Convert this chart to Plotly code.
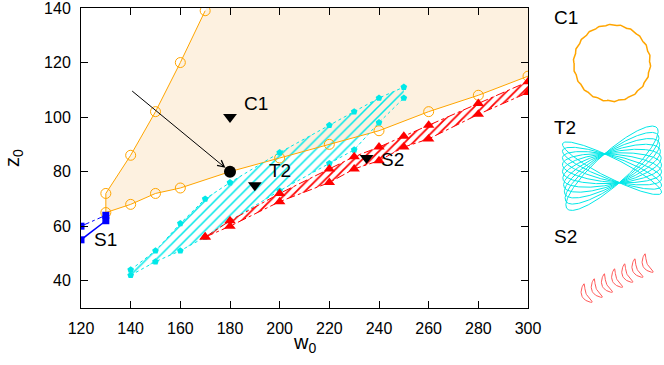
import numpy as np
import plotly.graph_objects as go

# ---------------- data ----------------
X_RANGE = [120, 300]
Y_RANGE = [30, 140]
x_ticks = [120, 140, 160, 180, 200, 220, 240, 260, 280, 300]
y_ticks = [40, 60, 80, 100, 120, 140]

orange_up_w = [130, 140, 150, 160, 170]
orange_up_z = [72, 86, 102, 120, 139]
orange_low_w = [130, 140, 150, 160, 180, 200, 220, 240, 260, 280, 300]
orange_low_z = [65, 68, 72, 74, 80, 85, 90, 95, 102, 108, 115]

cyan_w = [140, 150, 160, 170, 180, 200, 220, 230, 240, 250]
cyan_upper = [44, 51, 61, 70, 76, 87, 97, 102, 107, 111]
cyan_lower = [42, 47, 51, 56, 62, 73, 83, 88, 98, 107]

red_w = [170, 180, 200, 220, 230, 240, 250, 260, 280, 300]
red_upper = [56, 62, 72, 81, 85.5, 89, 93, 97, 105, 113]
red_lower = [56, 60, 69, 76, 81, 84, 89, 92, 101, 109]

s1_w = [120, 130]
s1_solid = [55, 62]
s1_dashdot = [60, 64]

state_names = ["C1", "T2", "S2"]
state_w = [180, 190, 235]
state_z = [100, 75, 85]
label_w = [185, 195, 240]
label_z = [105, 80.5, 84.5]

dot_w, dot_z = 180, 80
arrow_from_w, arrow_from_z = 140, 110

# ---------------- layout geometry (pixels) ----------------
W, H = 664, 365
PL, PR, PT, PB = 81, 528, 8, 308

ORANGE = "#FFA500"
PEACH = "rgb(253,241,224)"
CYAN = "#00E8E8"
RED = "#FF0000"
BLUE = "#0000FF"
FONT = "Liberation Sans, Arial, sans-serif"

fig = go.Figure()

# orange shaded region (extends to top and right of plot)
slope = (orange_up_z[-1] - orange_up_z[-2]) / (orange_up_w[-1] - orange_up_w[-2])
w_top = orange_up_w[-1] + (Y_RANGE[1] - orange_up_z[-1]) / slope
poly_x = orange_up_w + [w_top, X_RANGE[1]] + orange_low_w[::-1]
poly_z = orange_up_z + [Y_RANGE[1], Y_RANGE[1]] + orange_low_z[::-1]
fig.add_trace(go.Scatter(x=poly_x, y=poly_z, fill="toself", fillcolor=PEACH,
                         mode="none", hoverinfo="skip", showlegend=False))

# cyan hatched region
fig.add_trace(go.Scatter(
    x=cyan_w + cyan_w[::-1], y=cyan_upper + cyan_lower[::-1],
    fill="toself", mode="none", fillcolor="rgba(0,0,0,0)",
    fillpattern=dict(shape="/", fgcolor=CYAN, bgcolor="rgba(0,0,0,0)",
                     size=7, solidity=0.22, fillmode="replace"),
    hoverinfo="skip", showlegend=False))

# red hatched region
fig.add_trace(go.Scatter(
    x=red_w + red_w[::-1], y=red_upper + red_lower[::-1],
    fill="toself", mode="none", fillcolor="rgba(0,0,0,0)",
    fillpattern=dict(shape="/", fgcolor=RED, bgcolor="rgba(0,0,0,0)",
                     size=6, solidity=0.3, fillmode="replace"),
    hoverinfo="skip", showlegend=False))

# orange boundary
fig.add_trace(go.Scatter(
    x=orange_up_w[::-1] + orange_low_w, y=orange_up_z[::-1] + orange_low_z,
    mode="lines+markers", line=dict(color=ORANGE, width=1),
    marker=dict(symbol="circle-open", size=10, color=ORANGE, line=dict(width=1)),
    showlegend=False))

# cyan boundaries
for zz in (cyan_upper, cyan_lower):
    fig.add_trace(go.Scatter(
        x=cyan_w, y=zz, mode="lines+markers",
        line=dict(color=CYAN, width=1, dash="dot"),
        marker=dict(symbol="pentagon", size=7, color=CYAN),
        showlegend=False))

# red boundaries
for zz in (red_upper, red_lower):
    fig.add_trace(go.Scatter(
        x=red_w, y=zz, mode="lines+markers",
        line=dict(color=RED, width=1, dash="dashdot"),
        marker=dict(symbol="triangle-up", size=10, color=RED),
        showlegend=False))

# S1 blue
fig.add_trace(go.Scatter(x=s1_w, y=s1_solid, mode="lines+markers",
                         line=dict(color=BLUE, width=1.5),
                         marker=dict(symbol="square", size=7, color=BLUE),
                         showlegend=False))
fig.add_trace(go.Scatter(x=s1_w, y=s1_dashdot, mode="lines+markers",
                         line=dict(color=BLUE, width=1, dash="dashdot"),
                         marker=dict(symbol="square", size=7, color=BLUE),
                         showlegend=False))

# black state markers
fig.add_trace(go.Scatter(x=state_w, y=state_z, mode="markers",
                         marker=dict(symbol="triangle-down", size=12, color="black"),
                         showlegend=False))
fig.add_trace(go.Scatter(x=[dot_w], y=[dot_z], mode="markers",
                         marker=dict(symbol="circle", size=12, color="black"),
                         showlegend=False))

# ---------------- insets on a pixel-coordinate overlay axis ----------------
# C1: limit cycle
th = np.linspace(0, 2 * np.pi, 400)
r = 38 + 0.7 * np.sin(22 * th)
fig.add_trace(go.Scatter(x=612 + r * np.cos(th), y=63 + r * np.sin(th),
                         mode="lines", line=dict(color=ORANGE, width=1.5),
                         xaxis="x2", yaxis="y2", showlegend=False, hoverinfo="skip"))

# T2: torus sketch
t = np.linspace(0, 2 * np.pi, 300)
for d in np.linspace(-0.7, 0.7, 10):
    X = np.cos(t) - 0.15 * np.sin(t) - 0.1 * np.cos(t) * max(d, 0)
    Y = 0.04 + 0.2 * np.cos(t) + 0.33 * np.sin(t) + d * np.cos(t)
    fig.add_trace(go.Scatter(x=612 + 49 * X, y=170 - 44 * Y, mode="lines",
                             line=dict(color=CYAN, width=1),
                             xaxis="x2", yaxis="y2", showlegend=False, hoverinfo="skip"))

# S2: coils seen at an angle (crescents)
ncoil = 7
P0 = np.array([586.0, 294.0])
P1 = np.array([647.0, 264.0])
u = (P1 - P0) / np.linalg.norm(P1 - P0)
v = np.array([0.40, 0.92])
tc = np.linspace(0, 2 * np.pi, 80)
sx, sy = [], []
for k in range(ncoil):
    ck = P0 + (P1 - P0) * k / (ncoil - 1)
    off = 2.4 * np.sin(tc) + 4.5 * np.cos(tc) ** 2 - 2.2
    p = ck[:, None] + 10.0 * np.cos(tc) * v[:, None] + off * u[:, None]
    sx += list(p[0]) + [None]
    sy += list(p[1]) + [None]
fig.add_trace(go.Scatter(x=sx, y=sy, mode="lines",
                         line=dict(color="rgb(255,90,90)", width=1),
                         xaxis="x2", yaxis="y2", showlegend=False, hoverinfo="skip"))

# ---------------- annotations ----------------
annotations = []
for name, lw, lz in zip(state_names, label_w, label_z):
    annotations.append(dict(x=lw, y=lz, xref="x", yref="y", text=name, showarrow=False,
                            xanchor="left", yanchor="middle",
                            font=dict(size=19, color="black", family=FONT)))
annotations.append(dict(x=124.5, y=55, xref="x", yref="y", text="S1", showarrow=False,
                        xanchor="left", yanchor="middle",
                        font=dict(size=19, color="black", family=FONT)))
annotations.append(dict(x=dot_w, y=dot_z, ax=arrow_from_w, ay=arrow_from_z,
                        xref="x", yref="y", axref="x", ayref="y", text="",
                        showarrow=True, arrowhead=5, arrowsize=1.3, arrowwidth=1,
                        arrowcolor="black", standoff=6))
for name, py in zip(state_names, [17.5, 127, 236]):
    annotations.append(dict(x=552 / W, y=1 - py / H, xref="paper", yref="paper",
                            text=name, showarrow=False, xanchor="left", yanchor="middle",
                            font=dict(size=19, color="black", family=FONT)))
annotations.append(dict(x=(PL + PR) / 2 / W, y=1 - 343 / H, xref="paper", yref="paper",
                        text="w<sub>0</sub>", showarrow=False, xanchor="center",
                        yanchor="middle", font=dict(size=20, color="black", family=FONT)))
annotations.append(dict(x=13 / W, y=1 - 158 / H, xref="paper", yref="paper",
                        text="z<sub>0</sub>", showarrow=False, textangle=-90,
                        xanchor="center", yanchor="middle",
                        font=dict(size=20, color="black", family=FONT)))

axis_common = dict(showline=True, linecolor="black", linewidth=1, mirror="allticks",
                   ticks="inside", ticklen=7, tickcolor="black", showgrid=False,
                   zeroline=False, tickfont=dict(size=16, color="black", family=FONT),
                   ticklabelstandoff=6, automargin=False, ticklabeloverflow="allow")

fig.update_layout(
    width=W, height=H,
    margin=dict(l=0, r=0, t=0, b=0, autoexpand=False),
    paper_bgcolor="white", plot_bgcolor="rgba(0,0,0,0)",
    font=dict(family=FONT, color="black"),
    xaxis=dict(domain=[PL / W, PR / W], range=X_RANGE, tickvals=x_ticks,
               anchor="y", **axis_common),
    yaxis=dict(domain=[1 - PB / H, 1 - PT / H], range=Y_RANGE, tickvals=y_ticks,
               anchor="x", **axis_common),
    xaxis2=dict(domain=[0, 1], range=[0, W], visible=False, anchor="y2", fixedrange=True),
    yaxis2=dict(domain=[0, 1], range=[H, 0], visible=False, anchor="x2", fixedrange=True),
    annotations=annotations,
    showlegend=False,
)

fig.write_html("out.html", config={"displayModeBar": False},
               post_script="document.body.style.margin='0';"
                           "document.body.style.overflow='hidden';")
